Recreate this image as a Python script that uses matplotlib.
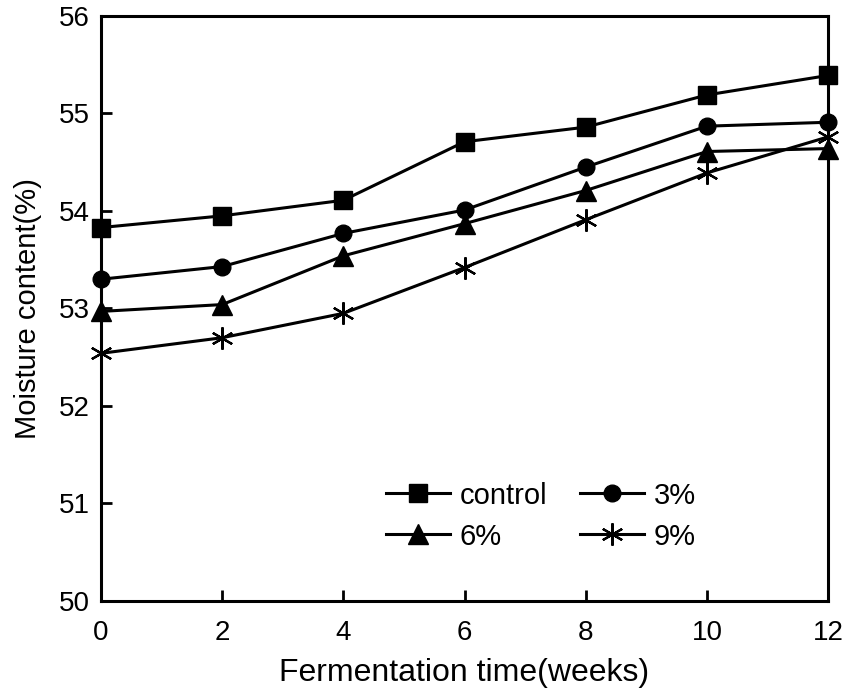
import numpy as np
import matplotlib.pyplot as plt

weeks = [0, 2, 4, 6, 8, 10, 12]
control = [53.83, 53.95, 54.11, 54.71, 54.86, 55.19, 55.39]
p3 = [53.30, 53.43, 53.77, 54.01, 54.45, 54.87, 54.91]
p6 = [52.97, 53.04, 53.54, 53.87, 54.21, 54.61, 54.64]
p9 = [52.54, 52.70, 52.95, 53.42, 53.91, 54.39, 54.76]

plt.rcParams['font.family'] = ['Liberation Sans', 'DejaVu Sans']

fig = plt.figure(figsize=(8.45, 6.95), dpi=100)
ax = fig.add_axes([0.1195, 0.1353, 0.8605, 0.8417])

style = dict(color='black', lw=2.2, clip_on=False, zorder=3)
l1, = ax.plot(weeks, control, marker='s', ms=12.5, label='control', **style)
l2, = ax.plot(weeks, p3, marker='o', ms=12, label='3%', **style)
l3, = ax.plot(weeks, p6, marker='^', ms=14, label='6%', **style)
l4, = ax.plot(weeks, p9, marker=(6, 2, 0), ms=16, mew=1.6, label='9%', **style)

ax.set_xlim(0, 12)
ax.set_ylim(50, 56)
ax.set_xticks(weeks)
ax.set_yticks(range(50, 57))
ax.tick_params(direction='in', length=8, width=2, labelsize=20, pad=8)
ax.tick_params(axis='x', pad=14)
for s in ax.spines.values():
    s.set_linewidth(2.2)

ax.set_xlabel('Fermentation time(weeks)', fontsize=23, labelpad=8)
ax.set_ylabel('Moisture content(%)', fontsize=21, labelpad=12)

# row-wise order: control, 3% / 6%, 9%
ax.legend([l1, l3, l2, l4], ['control', '6%', '3%', '9%'],
          ncol=2, frameon=False, fontsize=21, handlelength=2.2, columnspacing=1.1,
          handletextpad=0.35, labelspacing=0.45, loc='center',
          bbox_to_anchor=(0.605, 0.145), borderaxespad=0)

fig.savefig('out.png', dpi=100)
